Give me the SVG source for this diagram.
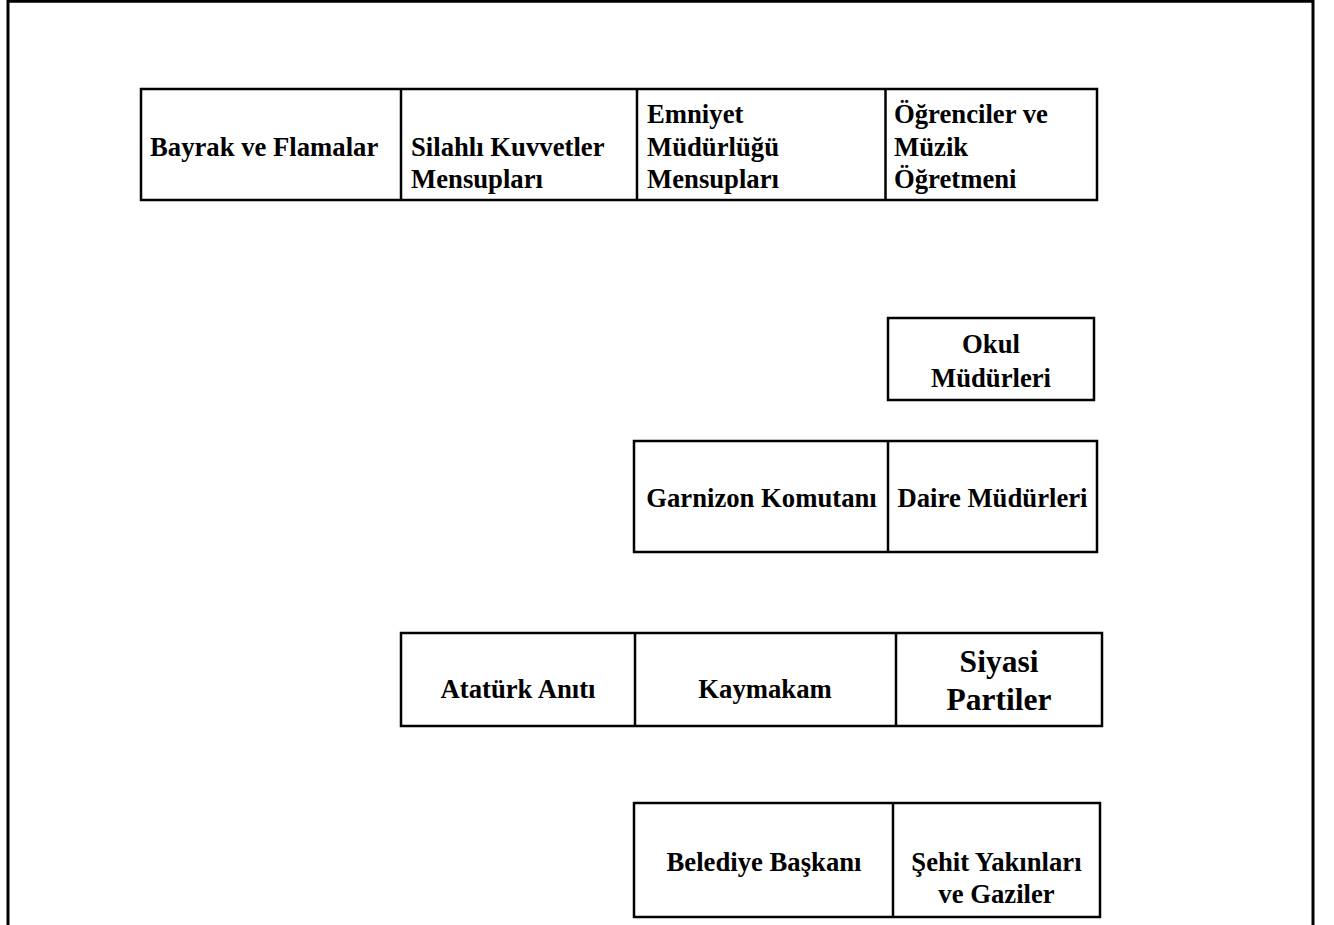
<svg xmlns="http://www.w3.org/2000/svg" width="1334" height="925" viewBox="0 0 1334 925">
<style>
.box{fill:#fff;stroke:#000;stroke-width:2.5}
.div{stroke:#000;stroke-width:2.5}
.t{font-family:"Liberation Serif","Times New Roman",serif;font-weight:bold;font-size:26.7px;fill:#000}
.c{text-anchor:middle}
.big{font-size:31.5px}
</style>
<rect width="1334" height="925" fill="#fff"/>
<g id="frame"><path d="M8,925 V1.3 H1313 V925" fill="none" stroke="#000" stroke-width="3"/></g>
<g id="connectors"></g>
<g id="row1">
<rect class="box" x="141" y="89" width="956" height="111"/>
<line class="div" x1="401" y1="89" x2="401" y2="200"/>
<line class="div" x1="637" y1="89" x2="637" y2="200"/>
<line class="div" x1="885.5" y1="89" x2="885.5" y2="200"/>
</g>
<g id="bayrak"><text class="t" x="150" y="156">Bayrak ve Flamalar</text></g>
<g id="silahli"><text class="t" x="411" y="156">Silahlı Kuvvetler</text><text class="t" x="411" y="188">Mensupları</text></g>
<g id="emniyet"><text class="t" x="647" y="123">Emniyet</text><text class="t" x="647" y="156">Müdürlüğü</text><text class="t" x="647" y="188">Mensupları</text></g>
<g id="ogrenciler"><text class="t" x="894" y="123">Öğrenciler ve</text><text class="t" x="894" y="156">Müzik</text><text class="t" x="894" y="188">Öğretmeni</text></g>
<g id="okul">
<rect class="box" x="888" y="318" width="206" height="82"/>
<text class="t c" x="991" y="353">Okul</text><text class="t c" x="991" y="387">Müdürleri</text>
</g>
<g id="row2">
<rect class="box" x="634" y="441" width="463" height="111"/>
<line class="div" x1="888" y1="441" x2="888" y2="552"/>
</g>
<g id="garnizon"><text class="t c" x="761.5" y="507">Garnizon Komutanı</text></g>
<g id="daire"><text class="t c" x="992.5" y="507">Daire Müdürleri</text></g>
<g id="row3">
<rect class="box" x="401" y="633" width="701" height="93"/>
<line class="div" x1="635" y1="633" x2="635" y2="726"/>
<line class="div" x1="896" y1="633" x2="896" y2="726"/>
</g>
<g id="ataturk"><text class="t c" x="518" y="698">Atatürk Anıtı</text></g>
<g id="kaymakam"><text class="t c" x="765" y="698">Kaymakam</text></g>
<g id="siyasi"><text class="t c big" x="999" y="672">Siyasi</text><text class="t c big" x="999" y="710">Partiler</text></g>
<g id="row4">
<rect class="box" x="634" y="803" width="466" height="114"/>
<line class="div" x1="893" y1="803" x2="893" y2="917"/>
</g>
<g id="belediye"><text class="t c" x="764" y="871">Belediye Başkanı</text></g>
<g id="sehit"><text class="t c" x="996.5" y="871">Şehit Yakınları</text><text class="t c" x="996.5" y="903">ve Gaziler</text></g>
</svg>
